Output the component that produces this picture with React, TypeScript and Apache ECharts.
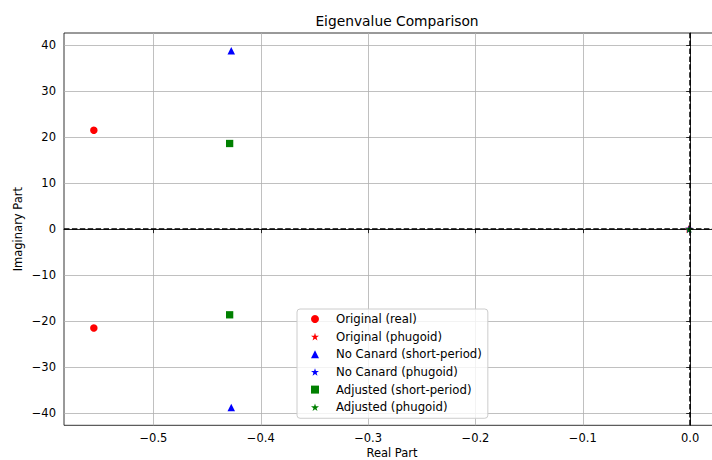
import React, { useEffect, useRef } from "react";
import * as echarts from "echarts";

// Tick values
const xTicks = [-0.5, -0.4, -0.3, -0.2, -0.1, 0.0];
const yTicks = [-40, -30, -20, -10, 0, 10, 20, 30, 40];

// Series names
const names = [
  "Original (real)",
  "Original (phugoid)",
  "No Canard (short-period)",
  "No Canard (phugoid)",
  "Adjusted (short-period)",
  "Adjusted (phugoid)",
];

// Eigenvalues (real, imaginary)
const origRealRe = [-0.5555, -0.5555];
const origRealIm = [21.5, -21.5];
const origPhugRe = [-0.0015, -0.0015];
const origPhugIm = [0.15, -0.15];
const noCanSpRe = [-0.4275, -0.4275];
const noCanSpIm = [38.77, -38.77];
const noCanPhRe = [-0.001, -0.001];
const noCanPhIm = [0.1, -0.1];
const adjSpRe = [-0.429, -0.429];
const adjSpIm = [18.62, -18.62];
const adjPhRe = [-0.0008, -0.0008];
const adjPhIm = [0.08, -0.08];

const STAR =
  "path://M50,0 L61.2,34.5 L97.6,34.5 L68.2,55.9 L79.4,90.5 L50,69.1 L20.6,90.5 L31.8,55.9 L2.4,34.5 L38.8,34.5 Z";

const FONT = "DejaVu Sans";

const pair = (re: number[], im: number[]) => re.map((r, i) => [r, im[i]]);
const fmt = (v: number, d: number) => {
  const s = d > 0 ? Math.abs(v).toFixed(d) : String(Math.abs(v));
  return v < -1e-12 ? "\u2212" + s : s;
};

export default function App() {
  const ref = useRef<HTMLDivElement>(null);
  useEffect(() => {
    if (!ref.current) return;
    const chart = echarts.init(ref.current, undefined, { renderer: "svg" });
    const specs = [
      { data: pair(origRealRe, origRealIm), color: "#ff0000", symbol: "circle", size: 7.5 },
      { data: pair(origPhugRe, origPhugIm), color: "#ff0000", symbol: STAR, size: 7 },
      { data: pair(noCanSpRe, noCanSpIm), color: "#0000ff", symbol: "triangle", size: 7.5 },
      { data: pair(noCanPhRe, noCanPhIm), color: "#0000ff", symbol: STAR, size: 7 },
      { data: pair(adjSpRe, adjSpIm), color: "#008000", symbol: "rect", size: 7.3 },
      { data: pair(adjPhRe, adjPhIm), color: "#008000", symbol: STAR, size: 7 },
    ];
    const series: any[] = specs.map((s, i) => ({
      type: "scatter",
      name: names[i],
      data: s.data,
      symbol: s.symbol,
      symbolSize: s.size,
      itemStyle: { color: s.color, opacity: 1 },
      z: 3,
    }));
    series.push({
      type: "line",
      data: [],
      silent: true,
      z: 2,
      markLine: {
        silent: true,
        symbol: ["none", "none"],
        label: { show: false },
        lineStyle: { color: "#000", width: 1.5, type: [5.5, 2.4] },
        emphasis: { disabled: true },
        data: [{ xAxis: 0 }, { yAxis: 0 }],
      },
    });
    chart.setOption({
      animation: false,
      backgroundColor: "#fff",
      textStyle: { fontFamily: FONT },
      title: {
        text: "Eigenvalue Comparison",
        left: 392,
        textAlign: "center",
        top: 9,
        textStyle: { fontFamily: FONT, fontSize: 13.8, fontWeight: "normal", color: "#000" },
      },
      grid: {
        left: 64,
        right: 0,
        top: 33,
        bottom: 34.7,
        show: true,
        borderColor: "#000",
        borderWidth: 0.8,
        backgroundColor: "transparent",
        outerBoundsMode: "none",
        containLabel: false,
      },
      legend: {
        orient: "vertical",
        left: 297,
        top: 309,
        padding: [3, 6, 4, 14],
        itemWidth: 8,
        itemHeight: 8,
        itemGap: 3.65,
        backgroundColor: "rgba(255,255,255,0.8)",
        borderColor: "#cccccc",
        borderWidth: 1,
        borderRadius: 3,
        textStyle: { fontFamily: FONT, fontSize: 11.7, color: "#000", lineHeight: 14, padding: [0, 0, 0, 12] },
        data: names,
      },
      xAxis: {
        type: "value",
        min: -0.5833,
        max: 0.0278,
        name: "Real Part",
        nameLocation: "middle",
        nameGap: 22,
        nameMoveOverlap: false,
        nameTextStyle: { fontFamily: FONT, fontSize: 11.5, color: "#000" },
        axisLine: { show: true, lineStyle: { color: "#000", width: 0.8 } },
        axisTick: { show: true, inside: false, length: 4, lineStyle: { color: "#000", width: 0.8 }, customValues: xTicks },
        axisLabel: {
          customValues: xTicks,
          margin: 7,
          fontFamily: FONT,
          fontSize: 11.5,
          color: "#000",
          formatter: (v: number) => fmt(v, 1),
        },
        splitLine: { show: true, lineStyle: { color: "#b0b0b0", width: 0.8 } },
      },
      yAxis: {
        type: "value",
        min: -42.64,
        max: 42.64,
        name: "Imaginary Part",
        nameLocation: "middle",
        nameGap: 40,
        nameMoveOverlap: false,
        nameTextStyle: { fontFamily: FONT, fontSize: 11.5, color: "#000" },
        axisLine: { show: true, lineStyle: { color: "#000", width: 0.8 } },
        axisTick: { show: true, inside: false, length: 4, lineStyle: { color: "#000", width: 0.8 }, customValues: yTicks },
        axisLabel: {
          customValues: yTicks,
          margin: 8,
          fontFamily: FONT,
          fontSize: 11.5,
          color: "#000",
          formatter: (v: number) => fmt(v, 0),
        },
        splitLine: { show: true, lineStyle: { color: "#b0b0b0", width: 0.8 } },
      },
      series,
    });
    return () => chart.dispose();
  }, []);
  return (
    <div
      style={{
        position: "fixed",
        left: 0,
        top: 0,
        width: 712,
        height: 460,
        overflow: "hidden",
        background: "#fff",
      }}
    >
      <div ref={ref} style={{ width: 720, height: 460 }} />
    </div>
  );
}
